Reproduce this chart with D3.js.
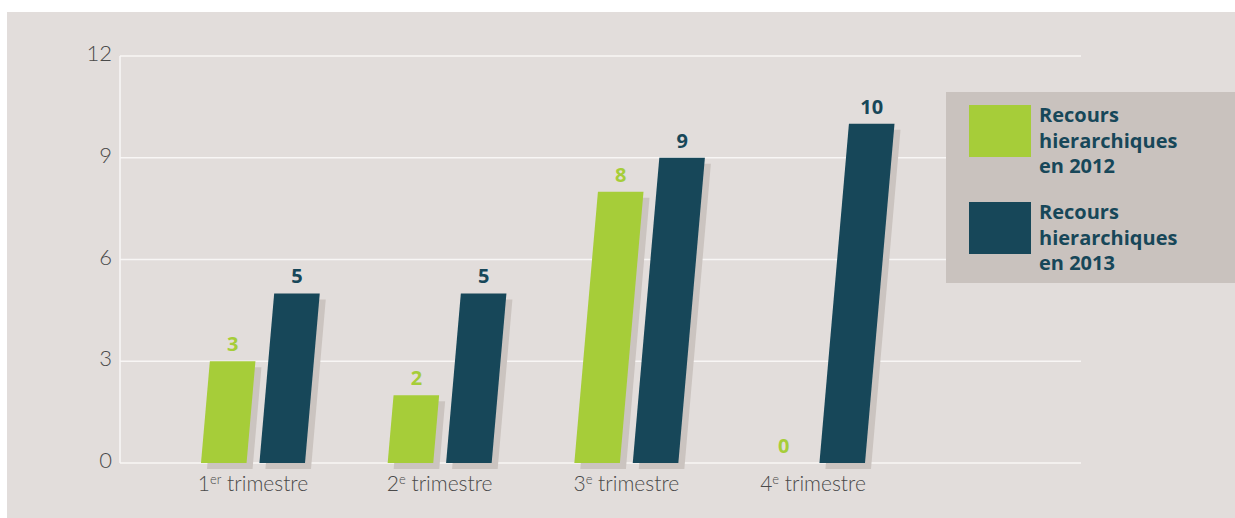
<!DOCTYPE html>
<html>
<head>
<meta charset="utf-8">
<script src="https://cdn.jsdelivr.net/npm/d3@7"></script>
<style>
  html, body { margin: 0; padding: 0; background: #ffffff; }
  svg { display: block; }
</style>
</head>
<body>
<svg id="chart" width="1235" height="518"></svg>
<script>
// Quarters (number + superscript suffix)
const quarters = ["1er trimestre", "2e trimestre", "3e trimestre", "4e trimestre"];
const quarterNum = ["1", "2", "3", "4"];
const quarterSup = ["er", "e", "e", "e"];
const quarterWord = ["trimestre", "trimestre", "trimestre", "trimestre"];

// Recours hiérarchiques per quarter
const series = ["2012", "2013"];
const values2012 = [3, 2, 8, 0];
const values2013 = [5, 5, 9, 10];

const yTicks = [0, 3, 6, 9, 12];
const legendLabels = [
  ["Recours", "hierarchiques", "en 2012"],
  ["Recours", "hierarchiques", "en 2013"]
];

const colors = { "2012": "#a6cd39", "2013": "#174759" };
const shadowColor = "#cbc4c0";
const skew = 0.087;      // horizontal lean per px of bar height
const shadowOff = 6;

const lightFont = "Lato, 'Open Sans', sans-serif";
const boldFont = "'Open Sans', 'Noto Sans', sans-serif";

const svg = d3.select("#chart");

// background panel
svg.append("rect")
  .attr("x", 7).attr("y", 12)
  .attr("width", 1228).attr("height", 506)
  .attr("fill", "#e2dddb");

const y = d3.scaleLinear().domain([0, 12]).range([463, 56]);
const xGroup = d3.scalePoint().domain(quarters).range([253, 813]);
const xSeries = d3.scaleBand().domain(series).range([-52, 52]).paddingInner(0.22);

const gridLeft = 120, gridRight = 1081;

// horizontal gridlines
svg.append("g").selectAll("line")
  .data(yTicks)
  .join("line")
  .attr("x1", gridLeft).attr("x2", gridRight)
  .attr("y1", d => y(d)).attr("y2", d => y(d))
  .attr("stroke", "#f8f6f5")
  .attr("stroke-width", 1.6);

// vertical axis line
svg.append("line")
  .attr("x1", gridLeft).attr("x2", gridLeft)
  .attr("y1", y(12)).attr("y2", y(0))
  .attr("stroke", "#f8f6f5")
  .attr("stroke-width", 1.6);

// y tick labels
svg.append("g").selectAll("text")
  .data(yTicks)
  .join("text")
  .attr("x", 112)
  .attr("y", d => y(d) + 5)
  .attr("text-anchor", "end")
  .attr("font-family", lightFont)
  .attr("font-weight", 300)
  .attr("font-size", 22)
  .attr("fill", "#4a4a4a")
  .text(d => d);

// bar records
const bars = [];
quarters.forEach((q, i) => {
  bars.push({ q, s: "2012", v: values2012[i] });
  bars.push({ q, s: "2013", v: values2013[i] });
});

function barGeom(d) {
  const x0 = xGroup(d.q) + xSeries(d.s);
  const w = xSeries.bandwidth();
  const yb = y(0), yt = y(d.v);
  const dx = (yb - yt) * skew;
  return { x0, w, yb, yt, dx };
}

function barPath(d, off) {
  const g = barGeom(d);
  const o = off || 0;
  return `M${g.x0 + o},${g.yb + o}L${g.x0 + g.w + o},${g.yb + o}` +
         `L${g.x0 + g.w + g.dx + o},${g.yt + o}L${g.x0 + g.dx + o},${g.yt + o}Z`;
}

const barData = bars.filter(d => d.v > 0);

// shadows
svg.append("g").selectAll("path")
  .data(barData)
  .join("path")
  .attr("d", d => barPath(d, shadowOff))
  .attr("fill", shadowColor);

// bars
svg.append("g").selectAll("path")
  .data(barData)
  .join("path")
  .attr("d", d => barPath(d, 0))
  .attr("fill", d => colors[d.s]);

// value labels
svg.append("g").selectAll("text")
  .data(bars)
  .join("text")
  .attr("x", d => { const g = barGeom(d); return g.x0 + g.w / 2 + g.dx; })
  .attr("y", d => y(d.v) - 10)
  .attr("text-anchor", "middle")
  .attr("font-family", boldFont)
  .attr("font-weight", 700)
  .attr("font-size", 20)
  .attr("fill", d => colors[d.s])
  .text(d => d.v);

// category labels with superscript suffix
const cat = svg.append("g").selectAll("text")
  .data(quarters)
  .join("text")
  .attr("x", d => xGroup(d))
  .attr("y", 491)
  .attr("text-anchor", "middle")
  .attr("font-family", lightFont)
  .attr("font-weight", 300)
  .attr("font-size", 21)
  .attr("fill", "#4a4a4a");
cat.append("tspan").text((d, i) => quarterNum[i]);
cat.append("tspan")
  .attr("font-size", 13)
  .attr("dy", -7)
  .text((d, i) => quarterSup[i]);
cat.append("tspan")
  .attr("dy", 7)
  .text((d, i) => "\u00a0" + quarterWord[i]);

// legend
const legend = svg.append("g");
legend.append("rect")
  .attr("x", 946).attr("y", 92)
  .attr("width", 289).attr("height", 191)
  .attr("fill", "#c9c2be");

const legendItems = legend.selectAll("g.item")
  .data(series)
  .join("g")
  .attr("class", "item")
  .attr("transform", (d, i) => `translate(0, ${i * 97})`);

legendItems.append("rect")
  .attr("x", 969).attr("y", 105)
  .attr("width", 62).attr("height", 52)
  .attr("fill", d => colors[d]);

legendItems.each(function (d, i) {
  const t = d3.select(this).append("text")
    .attr("font-family", boldFont)
    .attr("font-weight", 700)
    .attr("font-size", 20)
    .attr("fill", "#174759");
  legendLabels[i].forEach((line, k) => {
    t.append("tspan")
      .attr("x", 1039)
      .attr("y", 122 + k * 25.5)
      .text(line);
  });
});
</script>
</body>
</html>
